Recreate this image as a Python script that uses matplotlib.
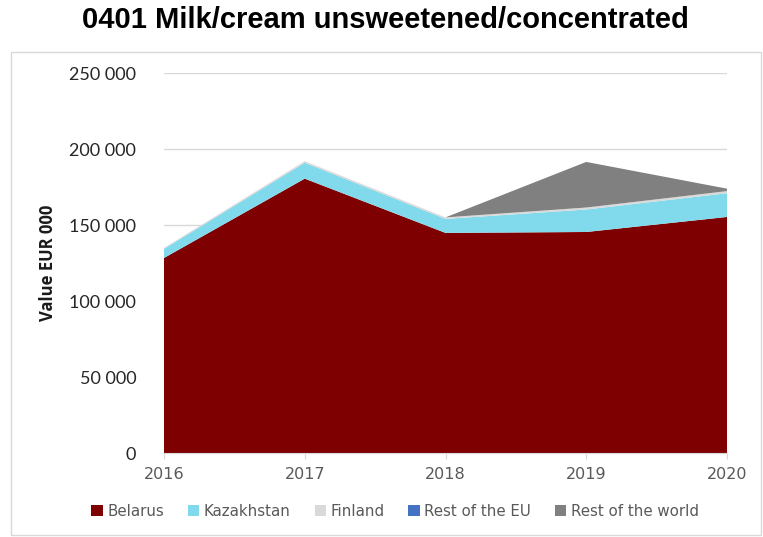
import matplotlib
matplotlib.use("Agg")
import matplotlib.pyplot as plt
from matplotlib.patches import Rectangle
from matplotlib.ticker import FuncFormatter

years = [2016, 2017, 2018, 2019, 2020]
belarus = [128300, 180500, 144800, 145400, 155300]
kazakhstan = [6000, 10500, 9200, 14800, 15600]
finland = [600, 1000, 1000, 1300, 1400]
rest_eu = [0, 0, 0, 0, 0]
rest_world = [0, 0, 0, 30000, 1600]

series_names = ["Belarus", "Kazakhstan", "Finland", "Rest of the EU", "Rest of the world"]
colors = ["#7f0000", "#81d9ec", "#d9d9d9", "#4472c4", "#808080"]

fig = plt.figure(figsize=(7.63, 5.37), dpi=100)
ax = fig.add_axes([164 / 763, 84 / 537, 563 / 763, 380 / 537])

ax.stackplot(years, belarus, kazakhstan, finland, rest_eu, rest_world,
             colors=colors, labels=series_names, linewidth=0)

ax.set_xlim(2016, 2020)
ax.set_ylim(0, 250000)
ax.set_yticks(range(0, 250001, 50000))
ax.yaxis.set_major_formatter(FuncFormatter(lambda v, p: f"{int(v):,}".replace(",", " ")))
ax.set_xticks(years)

ax.grid(axis="y", color="#d9d9d9", linewidth=1)
ax.set_axisbelow(True)
for s in ["top", "right", "left"]:
    ax.spines[s].set_visible(False)
ax.spines["bottom"].set_color("#d9d9d9")

ax.tick_params(axis="y", length=0, pad=20, labelsize=13, labelcolor="#262626")
ax.tick_params(axis="x", length=4, color="#d9d9d9", pad=6, labelsize=11.5, labelcolor="#595959")
for lbl in ax.get_yticklabels():
    lbl.set_family("Lato")
for lbl in ax.get_xticklabels():
    lbl.set_family("DejaVu Sans")

ax.set_ylabel("Value EUR 000", fontsize=12, fontweight="bold", family="Open Sans",
              color="#1a1a1a")
ax.yaxis.set_label_coords(-0.19, 0.5)

fig.text(0.505, 0.962, "0401 Milk/cream unsweetened/concentrated", ha="center", va="center",
         fontsize=21, fontweight="bold", family="Liberation Sans")

# light frame round the chart area
fig.patches.append(Rectangle((11 / 763, 2 / 537), 750 / 763, 483 / 537, transform=fig.transFigure,
                             fill=False, edgecolor="#d9d9d9", linewidth=1))

leg = ax.legend(loc="center", bbox_to_anchor=((395 / 763 - 164 / 763) / (563 / 763), (26 - 84) / 380),
                ncol=5, frameon=False, handlelength=0.75, handleheight=0.75, handletextpad=0.3,
                columnspacing=1.6, prop={"family": "DejaVu Sans", "size": 10.8})
for t in leg.get_texts():
    t.set_color("#595959")

fig.savefig("out.png", dpi=100, facecolor="white")
